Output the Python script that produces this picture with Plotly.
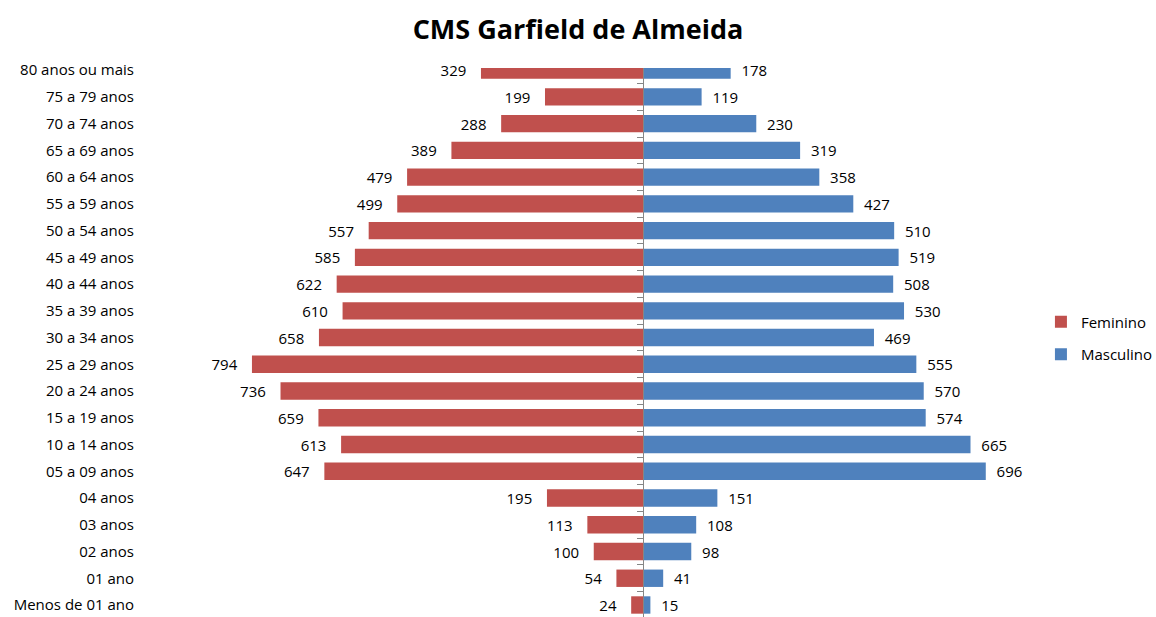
import plotly.graph_objects as go

categories = ["Menos de 01 ano", "01 ano", "02 anos", "03 anos", "04 anos",
              "05 a 09 anos", "10 a 14 anos", "15 a 19 anos", "20 a 24 anos",
              "25 a 29 anos", "30 a 34 anos", "35 a 39 anos", "40 a 44 anos",
              "45 a 49 anos", "50 a 54 anos", "55 a 59 anos", "60 a 64 anos",
              "65 a 69 anos", "70 a 74 anos", "75 a 79 anos", "80 anos ou mais"]
feminino = [24, 54, 100, 113, 195, 647, 613, 659, 736, 794, 658, 610, 622,
            585, 557, 499, 479, 389, 288, 199, 329]
masculino = [15, 41, 98, 108, 151, 696, 665, 574, 570, 555, 469, 530, 508,
             519, 510, 427, 358, 319, 230, 119, 178]

FONT = "Open Sans"
NB = "\u00a0"
y_range = [-0.449, 20.08]

fig = go.Figure()
fig.add_trace(go.Bar(
    y=categories, x=[-v for v in feminino], orientation="h", name="Feminino",
    legendgroup="f",
    marker=dict(color="#C0504D", line=dict(width=0)),
    text=[f"{v}{NB * 3}" for v in feminino],
    textposition="outside", cliponaxis=False, constraintext="none",
    textfont=dict(family=FONT, size=15, color="#000000"), hoverinfo="skip"))
fig.add_trace(go.Bar(
    y=categories, x=masculino, orientation="h", name="Masculino",
    legendgroup="m",
    marker=dict(color="#4F81BD", line=dict(width=0)),
    text=[f"{NB * 2}{v}" for v in masculino],
    textposition="outside", cliponaxis=False, constraintext="none",
    textfont=dict(family=FONT, size=15, color="#000000"), hoverinfo="skip"))
# invisible helper trace for the central axis
fig.add_trace(go.Scatter(
    y=categories, x=[0] * len(categories), yaxis="y2", mode="markers",
    marker=dict(opacity=0), showlegend=False, hoverinfo="skip"))

fig.update_layout(
    width=1156, height=617,
    paper_bgcolor="white", plot_bgcolor="white",
    barmode="overlay", bargap=0.35,
    margin=dict(l=249, r=119, t=68, b=0, autoexpand=False),
    title=dict(text="<b>CMS Garfield de Almeida</b>", x=0.5, xref="container",
               y=1 - 30 / 617, yref="container", yanchor="middle",
               font=dict(family=FONT, size=27, color="#000000")),
    font=dict(family=FONT, size=14, color="#000000"),
    xaxis=dict(range=[-800, 800], showticklabels=False, showgrid=False,
               zeroline=False, showline=False, ticks=""),
    yaxis=dict(type="category", categoryorder="array", categoryarray=categories,
               range=y_range,
               showgrid=False, showline=False, ticks="", zeroline=False,
               ticklabelstandoff=114,
               tickfont=dict(family=FONT, size=15, color="#000000")),
    yaxis2=dict(type="category", categoryorder="array", categoryarray=categories,
                range=y_range, overlaying="y",
                anchor="free", position=0.5, side="left",
                showline=True, linecolor="#868686", linewidth=1,
                ticks="outside", tickson="boundaries", ticklen=6,
                tickcolor="#868686", showticklabels=False, showgrid=False),
    legend=dict(x=1.005, y=0.508, xanchor="left", yanchor="middle",
                font=dict(family=FONT, size=15, color="#000000"),
                traceorder="grouped", tracegroupgap=10, itemwidth=30),
    showlegend=True,
)

fig.write_html("out.html", config={"displayModeBar": False},
               post_script="document.body.style.margin='0';document.body.style.overflow='hidden';")
